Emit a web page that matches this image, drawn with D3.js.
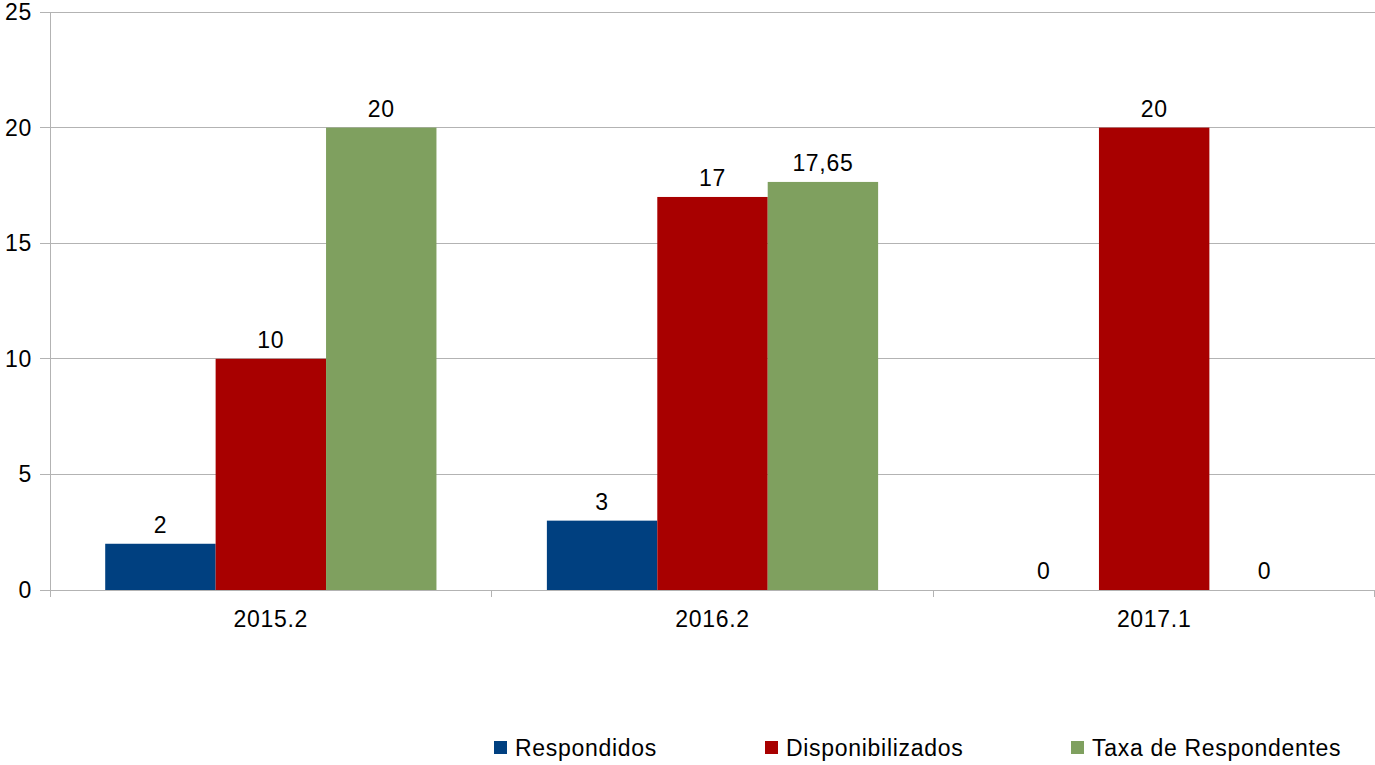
<!DOCTYPE html>
<html><head><meta charset="utf-8">
<script src="https://cdn.jsdelivr.net/npm/d3@7"></script>
<style>body{margin:0;background:#fff;font-family:"Liberation Sans",Arial,sans-serif} text{letter-spacing:0.7px}</style>
</head><body><svg id="c" width="1375" height="765"></svg>
<script>
const categories = ["2015.2","2016.2","2017.1"];
const seriesNames = ["Respondidos","Disponibilizados","Taxa de Respondentes"];
const respondidos = [2,3,0];
const disponibilizados = [10,17,20];
const taxa = [20,17.65,0];
const labels = [["2","10","20"],["3","17","17,65"],["0","20","0"]];
const yTicks = [0,5,10,15,20,25];
const colors = ["#004080","#a80000","#7fa05f"];

const FS = 23;
const svg = d3.select("#c");
const L=50,R=1375,T=12,B=590;
const x = d3.scaleBand().domain(categories).range([L,R]).paddingInner(0).paddingOuter(0);
const xs = d3.scaleBand().domain(seriesNames).range([x.bandwidth()/8, x.bandwidth()*7/8]);
const y = d3.scaleLinear().domain([0,25]).range([B,T]);
const grey="#b3b3b3";
svg.append("g").selectAll("line").data(yTicks).join("line")
 .attr("x1",L-10).attr("x2",R).attr("y1",d=>y(d)).attr("y2",d=>y(d))
 .attr("stroke",grey).attr("stroke-width",1).attr("shape-rendering","crispEdges");
svg.append("line").attr("x1",L).attr("x2",L).attr("y1",T).attr("y2",B+7).attr("stroke",grey).attr("shape-rendering","crispEdges");
svg.append("g").selectAll("line").data(categories.slice(1).map(c=>x(c)).concat([R-1])).join("line")
 .attr("x1",d=>d).attr("x2",d=>d).attr("y1",B).attr("y2",B+7).attr("stroke",grey).attr("shape-rendering","crispEdges");
svg.append("g").selectAll("text").data(yTicks).join("text")
 .attr("x",32).attr("y",d=>y(d)+8).attr("text-anchor","end").attr("font-size",FS).attr("fill","#000").text(d=>d);
svg.append("g").selectAll("text").data(categories).join("text")
 .attr("x",d=>x(d)+x.bandwidth()/2).attr("y",627).attr("text-anchor","middle").attr("font-size",FS).text(d=>d);
const series=[respondidos,disponibilizados,taxa];
series.forEach((vals,si)=>{
  const g=svg.append("g");
  g.selectAll("rect").data(vals).join("rect")
   .attr("x",(d,i)=>x(categories[i])+xs(seriesNames[si]))
   .attr("width",xs.bandwidth())
   .attr("y",d=>y(d)).attr("height",d=>B-y(d)).attr("fill",colors[si]);
  g.selectAll("text").data(vals).join("text")
   .attr("x",(d,i)=>x(categories[i])+xs(seriesNames[si])+xs.bandwidth()/2)
   .attr("y",d=>y(d)-11).attr("text-anchor","middle").attr("font-size",FS).text((d,i)=>labels[i][si]);
});
const legX=[494,765,1071];
const lg=svg.append("g");
seriesNames.forEach((n,i)=>{
  lg.append("rect").attr("x",legX[i]).attr("y",741).attr("width",13).attr("height",13).attr("fill",colors[i]);
  lg.append("text").attr("x",legX[i]+21).attr("y",756).attr("font-size",FS).text(n);
});
</script></body></html>
